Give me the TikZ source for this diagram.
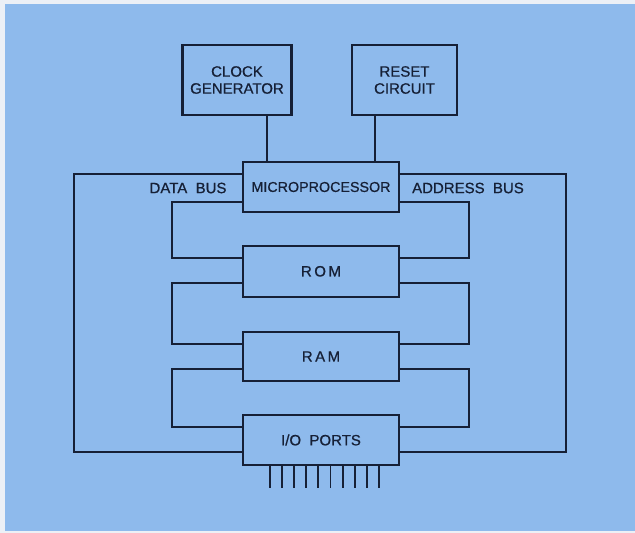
\documentclass[tikz,border=0pt]{standalone}
\usepackage{fontspec}
\setmainfont{Liberation Sans}
\newfontfamily\labfont[FakeBold=0.7]{Liberation Sans}
\definecolor{bgblue}{RGB}{142,186,236}
\definecolor{edge}{RGB}{236,240,246}
\definecolor{ink}{RGB}{22,32,54}
\begin{document}
\begin{tikzpicture}[x=1pt,y=-1pt,
  blk/.style={draw=ink,line width=2.1pt,fill=bgblue,inner sep=0pt,font=\labfont\fontsize{15}{17}\selectfont\color{ink}},
  wire/.style={draw=ink,line width=1.9pt,line join=miter},
  lbl/.style={font=\labfont\fontsize{15}{17}\selectfont\color{ink},inner sep=0pt}]
\fill[edge] (0,0) rectangle (635,533);
\fill[bgblue] (5,4) rectangle (635,531);
\useasboundingbox (0,0) rectangle (635,533);
% blocks
\node[blk,minimum width=109pt,minimum height=70pt,align=center] (clk) at (237,80) {CLOCK\\GENERATOR};
\node[blk,minimum width=105pt,minimum height=70pt,align=center] (rst) at (404.5,80) {RESET\\CIRCUIT};
\node[blk,minimum width=156.5pt,minimum height=49.5pt,font=\labfont\fontsize{14.3}{16}\selectfont\color{ink}] (mp) at (321,187) {MICROPROCESSOR};
\node[blk,minimum width=156.5pt,minimum height=50.5pt] (rom) at (321,271.3) {R\,O\,M};
\node[blk,minimum width=156.5pt,minimum height=48.5pt] (ram) at (321,356.5) {R\,A\,M};
\node[blk,minimum width=156.5pt,minimum height=50pt] (io) at (321,440) {I/O\ \ PORTS};
% labels
\node[lbl] (db) at (188,188) {DATA\ \ BUS};
\node[lbl] (ab) at (468,188) {ADDRESS\ \ BUS};
% control lines
\draw[wire] (clk.south -| 266.7,0) -- (mp.north -| 266.7,0);
\draw[wire] (rst.south -| 375.3,0) -- (mp.north -| 375.3,0);
% outer bus
\coordinate (ol1) at (74,174);
\coordinate (ol2) at (74,452.3);
\coordinate (or1) at (565.7,174);
\coordinate (or2) at (565.7,452.3);
\draw[wire] (mp.west |- ol1) -- (ol1) -- (ol2) -- (io.west |- ol2);
\draw[wire] (mp.east |- or1) -- (or1) -- (or2) -- (io.east |- or2);
% inner loops
\coordinate (a1) at (171.7,201.7); \coordinate (a2) at (171.7,257.7);
\coordinate (b1) at (171.7,282.7); \coordinate (b2) at (171.7,344);
\coordinate (c1) at (171.7,369.3); \coordinate (c2) at (171.7,426.7);
\draw[wire] (mp.west |- a1) -- (a1) -- (a2) -- (rom.west |- a2);
\draw[wire] (rom.west |- b1) -- (b1) -- (b2) -- (ram.west |- b2);
\draw[wire] (ram.west |- c1) -- (c1) -- (c2) -- (io.west |- c2);
\coordinate (d1) at (469.3,201.7); \coordinate (d2) at (469.3,257.7);
\coordinate (e1) at (469.3,282.7); \coordinate (e2) at (469.3,344);
\coordinate (f1) at (469.3,369.3); \coordinate (f2) at (469.3,426.7);
\draw[wire] (mp.east |- d1) -- (d1) -- (d2) -- (rom.east |- d2);
\draw[wire] (rom.east |- e1) -- (e1) -- (e2) -- (ram.east |- e2);
\draw[wire] (ram.east |- f1) -- (f1) -- (f2) -- (io.east |- f2);
% pins
\foreach \i in {0,...,9} {
  \coordinate (p\i) at (270+12.1*\i,488);
  \draw[wire] (io.south -| p\i) -- (p\i);
}
\end{tikzpicture}
\end{document}
